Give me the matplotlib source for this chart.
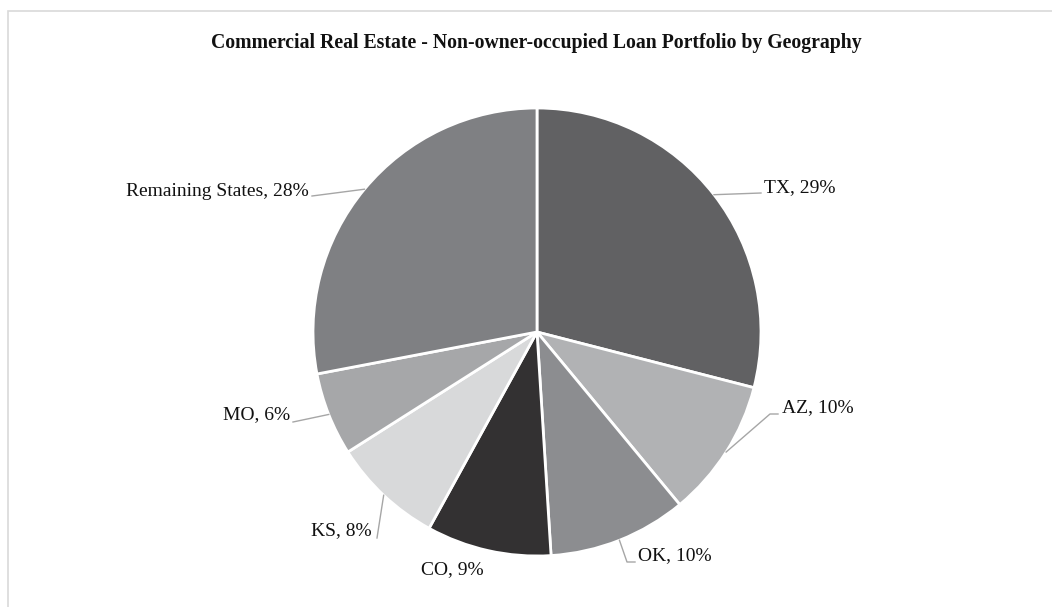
import numpy as np
import matplotlib
matplotlib.use("Agg")
import matplotlib.pyplot as plt
from matplotlib.patches import Rectangle

# data
states = ['TX', 'AZ', 'OK', 'CO', 'KS', 'MO', 'Remaining States']
shares = [29, 10, 10, 9, 8, 6, 28]
colors = ['#616163', '#b1b2b4', '#8c8d90', '#333132', '#d8d9da', '#a6a7a9', '#7f8083']

W, H = 1052, 607
CX, CY, R = 537, 332, 224  # pie centre and radius in pixels

def px(x, y):
    # pixel position -> data units (radius = 1)
    return (x - CX) / R, (CY - y) / R

fig = plt.figure(figsize=(W / 100, H / 100), dpi=100)
plt.rcParams['font.family'] = ['Liberation Serif', 'DejaVu Serif']

# light frame like the original chart area
fig.patches.append(Rectangle((8 / W, -0.1), 1.1, (H - 11) / H + 0.1, transform=fig.transFigure,
                             fill=False, edgecolor='#d9d9d9', linewidth=1.2))

ax = fig.add_axes([0, 0, 1, 1])
wedges, _ = ax.pie(shares, colors=colors, startangle=90, counterclock=False, radius=1,
                   wedgeprops=dict(edgecolor='white', linewidth=2))
ax.set_aspect('auto')
ax.set_xlim(-CX / R, (W - CX) / R)
ax.set_ylim(-(H - CY) / R, CY / R)
ax.axis('off')

# label placement: text anchor, alignment, leader-line elbow points (pixels)
layout = [
    ((764, 188), 'left', [(761, 193)]),
    ((782, 408), 'left', [(770, 414), (778, 414)]),
    ((638, 556), 'left', [(627, 562), (635, 562)]),
    ((452, 570), 'center', []),
    ((372, 531), 'right', [(377, 538)]),
    ((290, 415), 'right', [(293, 422)]),
    ((309, 191), 'right', [(312, 196)]),
]

for w, name, val, (txy, ha, elbow) in zip(wedges, states, shares, layout):
    ang = np.deg2rad((w.theta1 + w.theta2) / 2)
    tx, ty = px(*txy)
    ax.text(tx, ty, f"{name}, {val}%", ha=ha, va='center', fontsize=14, color='#111111')
    if elbow:
        pts = [(np.cos(ang), np.sin(ang))] + [px(*p) for p in elbow]
        xs, ys = zip(*pts)
        ax.plot(xs, ys, color='#a6a6a6', linewidth=1)

fig.text(536.5 / W, 1 - 43 / H, "Commercial Real Estate - Non-owner-occupied Loan Portfolio by Geography",
         ha='center', va='center', fontsize=14.2, fontweight='bold', color='#111111')

fig.savefig('out.png', dpi=100)
